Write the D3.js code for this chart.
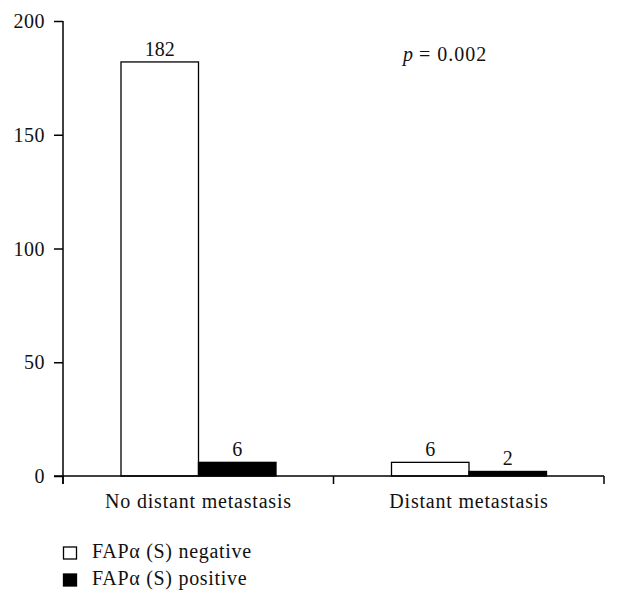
<!DOCTYPE html>
<html>
<head>
<meta charset="utf-8">
<script src="https://cdn.jsdelivr.net/npm/d3@7"></script>
<style>
  body { margin: 0; background: #fff; }
  svg { display: block; font-family: "Liberation Serif", "DejaVu Serif", serif; }
</style>
</head>
<body>
<svg id="chart" width="620" height="605"></svg>
<script>
const categories = ["No distant metastasis", "Distant metastasis"];
const seriesNames = ["FAP\u03B1 (S) negative", "FAP\u03B1 (S) positive"];
const negativeValues = [182, 6];
const positiveValues = [6, 2];
const yTicks = [0, 50, 100, 150, 200];
const seriesColors = ["#ffffff", "#000000"];

const svg = d3.select("#chart");
const x0 = d3.scaleBand().domain(categories).range([63, 604]).paddingInner(0).paddingOuter(0);
const x1 = d3.scaleBand().domain([0, 1]).range([58, 58 + 155]).padding(0);
const y = d3.scaleLinear().domain([0, 200]).range([476, 21]);

const data = categories.map((c, i) => ({ cat: c, vals: [negativeValues[i], positiveValues[i]] }));

// bars
const g = svg.append("g");
data.forEach(d => {
  d.vals.forEach((v, s) => {
    g.append("rect")
      .attr("x", x0(d.cat) + x1(s))
      .attr("y", y(v))
      .attr("width", x1.bandwidth())
      .attr("height", y(0) - y(v))
      .attr("fill", seriesColors[s])
      .attr("stroke", "#000")
      .attr("stroke-width", 1.3);
    g.append("text")
      .attr("x", x0(d.cat) + x1(s) + x1.bandwidth() / 2)
      .attr("y", y(v) - 6)
      .attr("text-anchor", "middle")
      .attr("font-size", 20)
      .attr("fill", "#111")
      .text(v);
  });
});

// y axis
const yAxis = d3.axisLeft(y).tickValues(yTicks).tickSize(9).tickPadding(9);
const ya = svg.append("g").attr("transform", "translate(63,0)").call(yAxis);
ya.select(".domain").attr("d", "M0,21V484").attr("stroke-width", 1.5);
ya.selectAll(".tick line").attr("stroke-width", 1.5);
ya.selectAll(".tick text").attr("font-size", 20).attr("font-family", "Liberation Serif, serif")
  .attr("letter-spacing", 0.5).attr("fill", "#111").attr("dy", "0.33em");

// x axis
const xa = svg.append("g").attr("transform", "translate(0,476)");
xa.append("line").attr("x1", 54).attr("x2", 604).attr("y1", 0).attr("y2", 0).attr("stroke", "#000").attr("stroke-width", 1.5);
const boundaries = [x0.range()[0], ...categories.map(c => x0(c) + x0.bandwidth())];
boundaries.forEach(b => {
  xa.append("line").attr("x1", b).attr("x2", b).attr("y1", 0).attr("y2", 8).attr("stroke", "#000").attr("stroke-width", 1.5);
});
categories.forEach(c => {
  xa.append("text")
    .attr("x", x0(c) + x1(0) + x1.bandwidth())
    .attr("y", 32)
    .attr("text-anchor", "middle")
    .attr("font-size", 20)
    .attr("letter-spacing", 0.8)
    .attr("fill", "#111")
    .text(c);
});

// p value
const pt = svg.append("text").attr("x", 403).attr("y", 61).attr("font-size", 20).attr("fill", "#111");
pt.append("tspan").attr("font-style", "italic").text("p");
pt.append("tspan").attr("letter-spacing", 1).text(" = 0.002");

// legend
const leg = svg.append("g");
seriesNames.forEach((n, i) => {
  const yy = 547 + i * 27;
  leg.append("rect").attr("x", 63.5).attr("y", yy).attr("width", 13).attr("height", 12)
    .attr("fill", seriesColors[i]).attr("stroke", "#000").attr("stroke-width", 1.3);
  leg.append("text").attr("x", 92).attr("y", yy + 11).attr("font-size", 20)
    .attr("letter-spacing", 0.7).attr("fill", "#111").text(n);
});
</script>
</body>
</html>
